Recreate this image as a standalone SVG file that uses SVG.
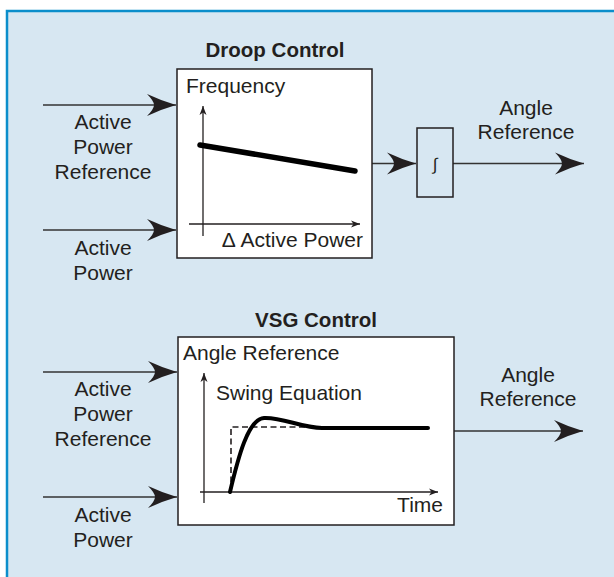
<svg xmlns="http://www.w3.org/2000/svg" width="614" height="577" viewBox="0 0 614 577">
<defs>
<style>
.t{font-family:"Liberation Sans",Arial,sans-serif;font-size:21px;fill:#231f20}
.b{font-weight:bold;font-size:20.5px}
.m{text-anchor:middle}
.e{text-anchor:end}
.box{fill:#ffffff;stroke:#231f20;stroke-width:1.5}
.conn{stroke:#333333;stroke-width:1.6;fill:none}
.ax{stroke:#231f20;stroke-width:1.3;fill:none}
</style>
<marker id="big" viewBox="-30 -12 32 24" refX="0" refY="0" markerUnits="userSpaceOnUse" markerWidth="32" markerHeight="24" orient="auto">
<path d="M0,0 Q-14,-4 -29,-11 Q-22,-4 -22,0 Q-22,4 -29,11 Q-14,4 0,0 Z" fill="#231f20"/>
</marker>
<marker id="small" viewBox="-10 -5 12 10" refX="0" refY="0" markerUnits="userSpaceOnUse" markerWidth="12" markerHeight="10" orient="auto">
<path d="M0,0 L-9,-3.5 L-6.5,0 L-9,3.5 Z" fill="#231f20"/>
</marker>
</defs>
<rect x="7" y="11" width="640" height="600" fill="#d7e7f2" stroke="#0b8ecb" stroke-width="2.5"/>

<g id="connectors">
<line class="conn" x1="43" y1="105" x2="176" y2="105" marker-end="url(#big)"/>
<line class="conn" x1="43" y1="230" x2="176" y2="230" marker-end="url(#big)"/>
<line class="conn" x1="372" y1="163.5" x2="416" y2="163.5" marker-end="url(#big)"/>
<line class="conn" x1="453" y1="163.5" x2="584" y2="163.5" marker-end="url(#big)"/>
<line class="conn" x1="43" y1="372" x2="177" y2="372" marker-end="url(#big)"/>
<line class="conn" x1="43" y1="497" x2="177" y2="497" marker-end="url(#big)"/>
<line class="conn" x1="454" y1="431" x2="583" y2="431" marker-end="url(#big)"/>
</g>

<g id="droop">
<text class="t b m" x="275" y="57">Droop Control</text>
<rect class="box" x="177" y="69" width="195" height="189"/>
<text class="t" x="186" y="93">Frequency</text>
<line class="ax" x1="203" y1="236" x2="203" y2="106" marker-end="url(#small)"/>
<line class="ax" x1="189" y1="224" x2="360" y2="224" marker-end="url(#small)"/>
<line x1="200" y1="145" x2="355" y2="171" stroke="#000" stroke-width="5.5" stroke-linecap="round"/>
<text class="t e" x="363" y="247">Δ Active Power</text>
</g>

<g id="integrator">
<rect class="box" x="417" y="128" width="36" height="69" fill="#d7e7f2" style="fill:#d7e7f2"/>
<text class="t m" x="435" y="170" style="font-size:17px">∫</text>
</g>

<g id="vsg">
<text class="t b m" x="316" y="327">VSG Control</text>
<rect class="box" x="178" y="337" width="276" height="188"/>
<text class="t" x="183" y="360">Angle Reference</text>
<text class="t" x="216" y="400">Swing Equation</text>
<line class="ax" x1="204" y1="503" x2="204" y2="373" marker-end="url(#small)"/>
<line class="ax" x1="200" y1="492" x2="438" y2="492" marker-end="url(#small)" stroke="#333"/>
<path d="M231,492 V427 H322" fill="none" stroke="#231f20" stroke-width="1.6" stroke-dasharray="6,3.5"/>
<path d="M230,492 C238,458 248,419 264,418 C282,417 302,428 322,428 L428,428" fill="none" stroke="#000" stroke-width="4" stroke-linecap="round"/>
<text class="t e" x="443" y="512">Time</text>
</g>

<g id="labels">
<text class="t m" x="103" y="129">Active</text>
<text class="t m" x="103" y="154">Power</text>
<text class="t m" x="103" y="179">Reference</text>
<text class="t m" x="103" y="255">Active</text>
<text class="t m" x="103" y="280">Power</text>
<text class="t m" x="526" y="115">Angle</text>
<text class="t m" x="526" y="139">Reference</text>
<text class="t m" x="103" y="396">Active</text>
<text class="t m" x="103" y="421">Power</text>
<text class="t m" x="103" y="446">Reference</text>
<text class="t m" x="103" y="522">Active</text>
<text class="t m" x="103" y="547">Power</text>
<text class="t m" x="528" y="382">Angle</text>
<text class="t m" x="528" y="406">Reference</text>
</g>
</svg>
